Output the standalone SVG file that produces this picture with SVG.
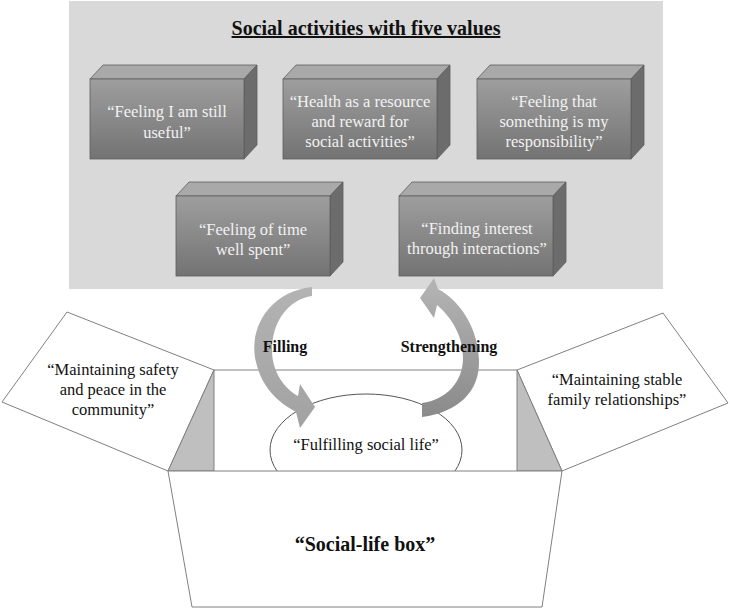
<svg xmlns="http://www.w3.org/2000/svg" width="730" height="609" viewBox="0 0 730 609">
<style>
.bgpanel{fill:#d9d9d9}
.front{fill:url(#gFront);stroke:#5e5e5e;stroke-width:0.8}
.top{fill:#a9a9a9;stroke:#5e5e5e;stroke-width:0.8}
.side{fill:#6c6c6c;stroke:#5e5e5e;stroke-width:0.8}
.bt{font-family:"Liberation Serif","Times New Roman",serif;font-size:16.5px;fill:#f2f2f2;text-anchor:middle}
.t{font-family:"Liberation Serif","Times New Roman",serif;font-size:16.5px;fill:#111;text-anchor:middle}
.b{font-family:"Liberation Serif","Times New Roman",serif;font-weight:bold;fill:#111;text-anchor:middle}
.flap{fill:#fff;stroke:#808080;stroke-width:1}
.wall{fill:#bfbfbf;stroke:#808080;stroke-width:1}
.ln{stroke:#808080;stroke-width:1;fill:none}
</style>
<defs>
<linearGradient id="gFront" x1="0" y1="0" x2="0" y2="1">
<stop offset="0" stop-color="#9e9e9e"/>
<stop offset="1" stop-color="#737373"/>
</linearGradient>
<linearGradient id="gArrL" x1="0" y1="0" x2="0" y2="1">
<stop offset="0" stop-color="#b3b3b3"/>
<stop offset="1" stop-color="#a2a2a2"/>
</linearGradient>
<linearGradient id="gArrR" x1="0" y1="0" x2="0" y2="1">
<stop offset="0" stop-color="#b5b5b5"/>
<stop offset="1" stop-color="#8a8a8a"/>
</linearGradient>
</defs>

<rect class="bgpanel" x="69" y="1" width="594" height="288"/>
<text class="b" x="366" y="35" font-size="20" text-decoration="underline">Social activities with five values</text>

<g id="box1">
<polygon class="top" points="90,79 103,65 257,65 244,79"/>
<polygon class="side" points="244,79 257,65 257,145 244,159"/>
<rect class="front" x="90" y="79" width="154" height="80"/>
<text class="bt" x="167" y="117">“Feeling I am still</text>
<text class="bt" x="167" y="138">useful”</text>
</g>
<g id="box2">
<polygon class="top" points="283,79 296,65 450,65 437,79"/>
<polygon class="side" points="437,79 450,65 450,145 437,159"/>
<rect class="front" x="283" y="79" width="154" height="80"/>
<text class="bt" x="360" y="107">“Health as a resource</text>
<text class="bt" x="360" y="127">and reward for</text>
<text class="bt" x="360" y="147">social activities”</text>
</g>
<g id="box3">
<polygon class="top" points="477,79 490,65 644,65 631,79"/>
<polygon class="side" points="631,79 644,65 644,145 631,159"/>
<rect class="front" x="477" y="79" width="154" height="80"/>
<text class="bt" x="554" y="107">“Feeling that</text>
<text class="bt" x="554" y="127">something is my</text>
<text class="bt" x="554" y="147">responsibility”</text>
</g>
<g id="box4">
<polygon class="top" points="176,196 189,182 343,182 330,196"/>
<polygon class="side" points="330,196 343,182 343,262 330,276"/>
<rect class="front" x="176" y="196" width="154" height="80"/>
<text class="bt" x="253" y="235">“Feeling of time</text>
<text class="bt" x="253" y="255">well spent”</text>
</g>
<g id="box5">
<polygon class="top" points="399,196 412,182 566,182 553,196"/>
<polygon class="side" points="553,196 566,182 566,262 553,276"/>
<rect class="front" x="399" y="196" width="154" height="80"/>
<text class="bt" x="477" y="234">“Finding interest</text>
<text class="bt" x="477" y="254">through interactions”</text>
</g>

<g id="flap-left">
<polygon class="flap" points="67,312 214,370 168,471 2,402"/>
<text class="t" x="113" y="375">“Maintaining safety</text>
<text class="t" x="113" y="395">and peace in the</text>
<text class="t" x="113" y="415">community”</text>
</g>
<g id="flap-right">
<polygon class="flap" points="517,370 663,313 728,403 562,471"/>
<text class="t" x="617" y="385">“Maintaining stable</text>
<text class="t" x="617" y="405">family relationships”</text>
</g>
<g id="box-inside">
<line class="ln" x1="214" y1="370" x2="517" y2="370"/>
<polygon class="wall" points="214,370 214,471 168,471"/>
<polygon class="wall" points="517,370 517,471 562,471"/>
</g>
<g id="fulfilling">
<ellipse cx="366" cy="450" rx="96" ry="56" fill="#fff" stroke="#555" stroke-width="1"/>
<text class="t" x="366" y="450">“Fulfilling social life”</text>
</g>

<g id="connectors">
<path id="arrow-filling" fill="url(#gArrL)" d="M 312,287 C 268,292 248,330 256,362 C 262,388 278,402 296,412 L 300,428 L 315,407 L 300,384 L 298,396 C 284,388 272,372 272,350 C 272,320 290,299 312,296 Z"/>
<path id="arrow-strengthening" fill="url(#gArrR)" d="M 422,417 C 458,412 480,392 479,360 C 478,330 462,302 438,289 L 434,278 L 420,298 L 434,318 L 437,305 C 452,318 463,336 463,358 C 463,382 446,400 422,403 Z"/>
<text class="b" x="285" y="352" font-size="16">Filling</text>
<text class="b" x="449" y="352" font-size="16">Strengthening</text>
</g>

<g id="social-life-box">
<polygon fill="#fff" stroke="#808080" stroke-width="1" points="168,471 562,471 542,607 192,607"/>
<text class="b" x="365" y="551" font-size="20">“Social-life box”</text>
</g>
</svg>
